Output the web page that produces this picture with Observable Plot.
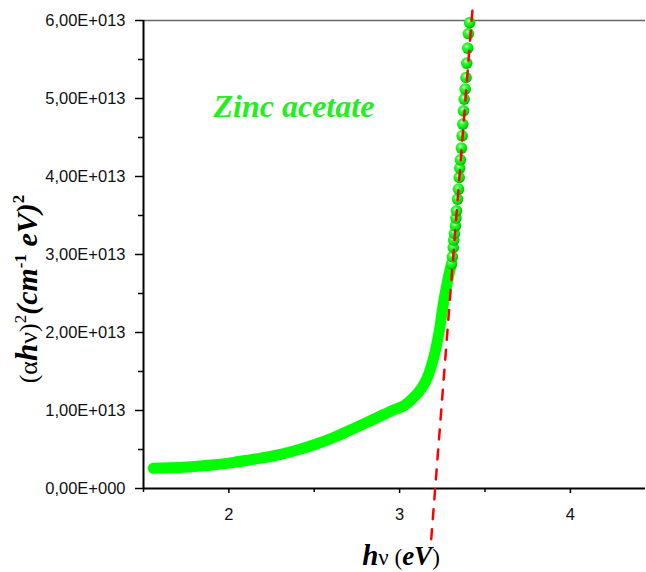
<!DOCTYPE html>
<html>
<head>
<meta charset="utf-8">
<script src="https://cdn.jsdelivr.net/npm/d3@7"></script>
<script src="https://cdn.jsdelivr.net/npm/@observablehq/plot@0.6"></script>
<style>
  html, body { margin: 0; padding: 0; background: #fff; }
  #chart { width: 646px; height: 572px; }
</style>
</head>
<body>
<div id="chart"></div>
<script>
// ---- data (y in units of 1E+13 (cm^-1 eV)^2) ----
const bandX = [1.557, 1.65, 1.78, 1.90, 2.00, 2.13, 2.267, 2.38, 2.50, 2.62, 2.75, 2.86, 2.967, 3.025, 3.084, 3.13, 3.162, 3.20, 3.229, 3.259, 3.28, 3.295, 3.304];
const bandY = [0.26, 0.265, 0.28, 0.30, 0.325, 0.37, 0.42, 0.48, 0.56, 0.66, 0.79, 0.90, 1.01, 1.06, 1.17, 1.29, 1.42, 1.68, 1.98, 2.41, 2.65, 2.80, 2.88];
const beadX = [3.304, 3.309, 3.314, 3.317, 3.321, 3.327, 3.330, 3.333, 3.339, 3.345, 3.349, 3.352, 3.356, 3.362, 3.366, 3.370, 3.374, 3.378, 3.384, 3.389, 3.393, 3.399, 3.403, 3.410];
const beadY = [2.881, 2.971, 3.090, 3.185, 3.269, 3.368, 3.467, 3.560, 3.710, 3.838, 3.987, 4.108, 4.214, 4.364, 4.522, 4.672, 4.842, 4.992, 5.121, 5.269, 5.454, 5.646, 5.833, 5.974];
const fitX = [3.185, 3.427];
const fitY = [-0.65, 6.15];
const yMajorTicks = [0, 1, 2, 3, 4, 5, 6];
const yMinorTicks = [0.5, 1.5, 2.5, 3.5, 4.5, 5.5];
const xMajorTicks = [2, 3, 4];
const xMinorTicks = [1.5, 2.5, 3.5];
const seriesLabel = "Zinc acetate";

const E = 1e13;
const band = bandX.map((x, i) => ({x, y: bandY[i] * E}));
const beads = beadX.map((x, i) => ({x, y: beadY[i] * E}));
const fit = fitX.map((x, i) => ({x, y: fitY[i] * E}));

const fmt = d => {
  if (d === 0) return "0,00E+000";
  return (d / E).toFixed(2).replace(".", ",") + "E+013";
};

const plot = Plot.plot({
  width: 646,
  height: 572,
  marginLeft: 143,
  marginRight: 1,
  marginTop: 20,
  marginBottom: 84,
  style: {fontFamily: "'Liberation Sans', Arial, sans-serif", fontSize: "16px", background: "#fff", color: "#000"},
  x: {domain: [1.5, 4.44]},
  y: {domain: [0, 6 * E]},
  marks: [
    Plot.ruleY([6 * E], {stroke: "#666", strokeWidth: 1.5}),
    Plot.axisY(yMajorTicks.map(d => d * E), {tickSize: 8, tickPadding: 10, tickFormat: fmt, label: null, strokeWidth: 1.5, fontSize: 16.5, fill: "#111"}),
    Plot.axisY(yMinorTicks.map(d => d * E), {tickSize: 5, tickFormat: () => "", label: null, strokeWidth: 1.5}),
    Plot.axisX(xMajorTicks, {tickSize: 5, tickPadding: 15, tickFormat: d => String(d), label: null, strokeWidth: 1.5, fontSize: 16.5, fill: "#111"}),
    Plot.axisX(xMinorTicks, {tickSize: 4, tickFormat: () => "", label: null, strokeWidth: 1.5}),
    Plot.ruleX([1.5], {stroke: "#000", strokeWidth: 2}),
    Plot.ruleY([0], {stroke: "#000", strokeWidth: 2}),
    Plot.line(band, {x: "x", y: "y", stroke: "#00ff00", strokeWidth: 11, strokeLinecap: "round", strokeLinejoin: "round", curve: "catmull-rom"}),
    Plot.dot(beads, {x: "x", y: "y", r: 5.8, fill: "url(#ball)", stroke: "none"}),
    Plot.line(fit, {x: "x", y: "y", stroke: "#ff0000", strokeWidth: 2.5, strokeDasharray: "10,10"}),
    Plot.text([seriesLabel], {frameAnchor: "top-left", dx: 70, dy: 86, text: d => d, fill: "#22ee22", fontFamily: "'Liberation Serif', serif", fontStyle: "italic", fontWeight: "bold", fontSize: 32, textAnchor: "start", lineAnchor: "middle"})
  ]
});

const svg = d3.select(plot);
const defs = svg.insert("defs", ":first-child");
const g = defs.append("radialGradient").attr("id", "ball").attr("cx", "40%").attr("cy", "35%").attr("r", "65%");
g.append("stop").attr("offset", "0%").attr("stop-color", "#eaffea");
g.append("stop").attr("offset", "30%").attr("stop-color", "#33ff33");
g.append("stop").attr("offset", "80%").attr("stop-color", "#00e000");
g.append("stop").attr("offset", "100%").attr("stop-color", "#00b000");

// y axis label
const yl = svg.append("text")
  .attr("transform", "translate(37,289) rotate(-90)")
  .attr("text-anchor", "middle")
  .attr("font-family", "'Liberation Serif', serif")
  .attr("font-size", 26)
  .attr("fill", "#000");
yl.append("tspan").text("(α");
yl.append("tspan").attr("font-weight", "bold").attr("font-style", "italic").attr("font-size", 31).text("h");
yl.append("tspan").text("ν)");
yl.append("tspan").attr("font-size", 17).attr("dy", -11).text("2");
yl.append("tspan").attr("dy", 11).attr("font-weight", "bold").attr("font-style", "italic").attr("font-size", 30).text("(cm");
yl.append("tspan").attr("font-size", 17).attr("dy", -11).attr("font-weight", "bold").text("-1");
yl.append("tspan").attr("dy", 11).attr("font-weight", "bold").attr("font-style", "italic").attr("font-size", 30).text(" eV)");
yl.append("tspan").attr("font-size", 17).attr("dy", -13).attr("font-weight", "bold").text("2");

// x axis label
const xl = svg.append("text")
  .attr("x", 401).attr("y", 565)
  .attr("text-anchor", "middle")
  .attr("font-family", "'Liberation Serif', serif")
  .attr("font-size", 23)
  .attr("fill", "#000");
xl.append("tspan").attr("font-weight", "bold").attr("font-style", "italic").attr("font-size", 29).text("h");
xl.append("tspan").text("ν (");
xl.append("tspan").attr("font-weight", "bold").attr("font-style", "italic").attr("font-size", 27).text("eV");
xl.append("tspan").text(")");

document.getElementById("chart").appendChild(plot);
</script>
</body>
</html>
